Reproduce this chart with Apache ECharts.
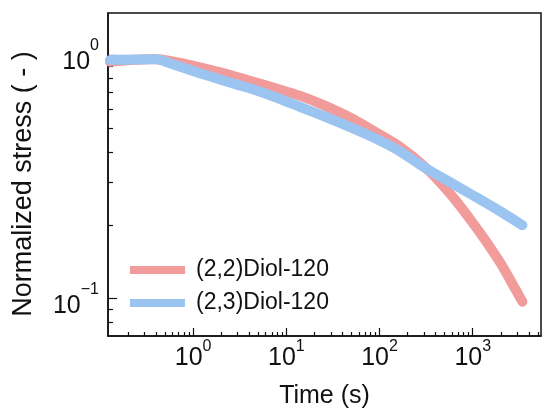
<!DOCTYPE html>
<html>
<head>
<meta charset="utf-8">
<script src="https://cdn.jsdelivr.net/npm/echarts@6/dist/echarts.min.js"></script>
<style>
html,body{margin:0;padding:0;background:#fff;}
#c{width:542px;height:408px;}
</style>
</head>
<body>
<div id="c"></div>
<script>
// ---- data ----
const seriesNames = ['(2,2)Diol-120', '(2,3)Diol-120'];
const diol22 = [
  [0.128, 0.939], [0.389, 0.963], [0.637, 0.936], [1.18, 0.890], [2.19, 0.839],
  [4.05, 0.784], [7.51, 0.732], [13.9, 0.681], [25.8, 0.620], [47.7, 0.555],
  [88.5, 0.485], [164, 0.421], [304, 0.348], [563, 0.271], [1043, 0.200],
  [1933, 0.142], [2798, 0.111], [3409, 0.097]
];
const diol23 = [
  [0.128, 0.954], [0.389, 0.960], [0.637, 0.910], [1.18, 0.841], [2.19, 0.782],
  [4.05, 0.730], [7.51, 0.672], [13.9, 0.613], [25.8, 0.559], [47.7, 0.507],
  [88.5, 0.456], [164, 0.403], [304, 0.345], [563, 0.301], [1043, 0.263],
  [1933, 0.229], [3409, 0.200]
];
const xMajor = [1, 10, 100, 1000];
const xMinor = [0.2,0.3,0.4,0.5,0.6,0.7,0.8,0.9, 2,3,4,5,6,7,8,9, 20,30,40,50,60,70,80,90,
                200,300,400,500,600,700,800,900, 2000,3000,4000,5000];
const yMajor = [0.1, 1];
const yMinor = [0.08, 0.09, 0.2,0.3,0.4,0.5,0.6,0.7,0.8,0.9];
const xRange = [0.122, 5400];
const yRange = [0.0701, 1.488];
const colors = ['#F19B9B', '#9CC4F0'];

const FONT = '"Liberation Sans", Arial, Helvetica, sans-serif';
function pow10Label(v) {
  const e = Math.round(Math.log10(v));
  const s = e < 0 ? '\u2212' + (-e) : String(e);
  return '{p|\u200b}{b|10}{s|' + s + '}';
}
function richFor(spacer) {
  return {
    p: { fontSize: 10, lineHeight: spacer, width: 0 },
    b: { fontSize: 25, fontFamily: FONT, color: '#111', lineHeight: 26, verticalAlign: 'bottom' },
    s: { fontSize: 16, fontFamily: FONT, color: '#111', lineHeight: 16, verticalAlign: 'top' }
  };
}

const chart = echarts.init(document.getElementById('c'));
chart.setOption({
  animation: false,
  backgroundColor: '#fff',
  color: colors,
  grid: { left: 108, right: 1, top: 13, bottom: 72, outerBoundsMode: 'none', containLabel: false,
          show: true, borderColor: '#111', borderWidth: 1.5, backgroundColor: 'transparent' },
  legend: {
    orient: 'vertical', left: 125, top: 252,
    icon: 'rect', itemWidth: 55, itemHeight: 8, itemGap: 7,
    textStyle: { fontSize: 23, fontFamily: FONT, color: '#111', lineHeight: 26, padding: [0, 0, 0, 6] },
    data: seriesNames
  },
  xAxis: [{
    type: 'log', min: xRange[0], max: xRange[1], logBase: 10,
    name: 'Time (s)', nameLocation: 'middle', nameGap: 48,
    nameTextStyle: { fontSize: 25, fontFamily: FONT, color: '#111' },
    axisLine: { show: true, lineStyle: { color: '#111', width: 1.5 } },
    axisTick: { show: true, inside: true, length: 8, customValues: xMajor, lineStyle: { color: '#111', width: 1.2 } },
    axisLabel: { show: true, margin: 3, customValues: xMajor, formatter: pow10Label, rich: richFor(32) },
    splitLine: { show: false }
  }, {
    type: 'log', min: xRange[0], max: xRange[1], logBase: 10, position: 'bottom',
    axisLine: { show: false },
    axisTick: { show: true, inside: true, length: 4, customValues: xMinor, lineStyle: { color: '#111', width: 1.2 } },
    axisLabel: { show: false },
    splitLine: { show: false }
  }],
  yAxis: [{
    type: 'log', min: yRange[0], max: yRange[1], logBase: 10,
    name: 'Normalized stress ( - )', nameLocation: 'middle', nameGap: 71, nameRotate: 90,
    nameTextStyle: { fontSize: 27, fontFamily: FONT, color: '#111', padding: [0, 19, 0, 0] },
    axisLine: { show: true, lineStyle: { color: '#111', width: 1.5 } },
    axisTick: { show: true, inside: true, length: 9, customValues: yMajor, lineStyle: { color: '#111', width: 1.2 } },
    axisLabel: { show: true, margin: 9, padding: [3, 0, 0, 0], customValues: yMajor, formatter: pow10Label, rich: richFor(37) },
    splitLine: { show: false }
  }, {
    type: 'log', min: yRange[0], max: yRange[1], logBase: 10, position: 'left',
    axisLine: { show: false },
    axisTick: { show: true, inside: true, length: 5, customValues: yMinor, lineStyle: { color: '#111', width: 1.2 } },
    axisLabel: { show: false },
    splitLine: { show: false }
  }],
  series: [{
    name: seriesNames[0], type: 'line', data: diol22, showSymbol: false, smooth: 0.3,
    lineStyle: { width: 10, color: colors[0], cap: 'round', join: 'round' }, itemStyle: { color: colors[0] }
  }, {
    name: seriesNames[1], type: 'line', data: diol23, showSymbol: false, smooth: 0.3,
    lineStyle: { width: 10, color: colors[1], cap: 'round', join: 'round' }, itemStyle: { color: colors[1] }
  }]
});
</script>
</body>
</html>
